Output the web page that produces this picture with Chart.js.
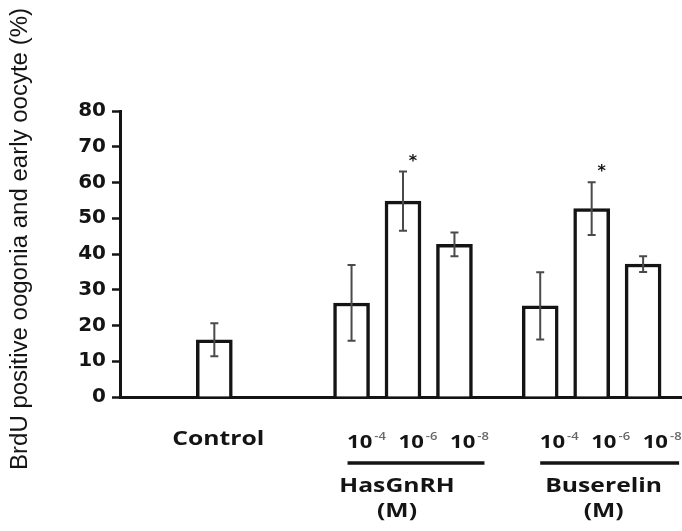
<!DOCTYPE html>
<html>
<head>
<meta charset="utf-8">
<script src="https://cdn.jsdelivr.net/npm/chart.js@4.4.1/dist/chart.umd.min.js"></script>
<style>
  html, body { margin: 0; padding: 0; background: #fff; overflow: hidden; }
  #wrap { position: relative; width: 686px; height: 531px; }
</style>
</head>
<body>
<div id="wrap"><canvas id="myChart"></canvas></div>
<script>
// Datos
const barNames = ['Control', 'HasGnRH 10-4', 'HasGnRH 10-6', 'HasGnRH 10-8', 'Buserelin 10-4', 'Buserelin 10-6', 'Buserelin 10-8'];
const exponents = [null, '-4', '-6', '-8', '-4', '-6', '-8'];
const meanValues = [16.0, 26.3, 54.8, 42.7, 25.5, 52.7, 37.2];
const semValues = [4.6, 10.6, 8.3, 3.3, 9.4, 7.4, 2.2];
const significant = [false, false, true, false, false, true, false];
const groupNames = ['HasGnRH', 'Buserelin'];
const groupMembers = [[1, 2, 3], [4, 5, 6]];
const unitLabel = '(M)';
const yTitle = 'BrdU positive oogonia and early oocyte (%)';
const yMin = 0, yMax = 80, yStep = 10;

// Posiciones en el eje de categorías (diseño, no datos)
const SLOTS = [5, 13, 16, 19, 24, 27, 30];
const N_SLOTS = 33;
const STRETCH = 1.3;
const INK = '#141414';

const slotLabels = [];
const slotData = [];
for (let i = 0; i < N_SLOTS; i++) { slotLabels.push(''); slotData.push(null); }
SLOTS.forEach((s, i) => { slotLabels[s] = barNames[i]; slotData[s] = meanValues[i]; });

function stretchText(c, text, x, y, sx) {
    c.save();
    c.translate(x, y);
    c.scale(sx, 1);
    c.fillText(text, 0, 0);
    c.restore();
}

// Barras de error, asteriscos y etiquetas inferiores
const extrasPlugin = {
    id: 'extras',
    afterDatasetsDraw(chart) {
        const c = chart.ctx;
        const ys = chart.scales.y;
        const meta = chart.getDatasetMeta(0);
        const xs = SLOTS.map(s => meta.data[s].x);

        c.save();
        c.strokeStyle = '#4a4a4a';
        c.lineWidth = 2;
        SLOTS.forEach((s, i) => {
            const x = xs[i];
            const top = ys.getPixelForValue(meanValues[i] + semValues[i]);
            const bot = ys.getPixelForValue(meanValues[i] - semValues[i]);
            c.beginPath();
            c.moveTo(x, top); c.lineTo(x, bot);
            c.moveTo(x - 4, top); c.lineTo(x + 4, top);
            c.moveTo(x - 4, bot); c.lineTo(x + 4, bot);
            c.stroke();
            if (significant[i]) {
                c.fillStyle = INK;
                c.font = 'bold 16px "DejaVu Sans"';
                c.textAlign = 'center';
                c.textBaseline = 'middle';
                c.fillText('*', x + 10, top - 10);
            }
        });
        c.restore();
    },
    afterDraw(chart) {
        const c = chart.ctx;
        const meta = chart.getDatasetMeta(0);
        const xs = SLOTS.map(s => meta.data[s].x);
        c.save();
        c.fillStyle = INK;
        c.textBaseline = 'middle';

        // Título del eje Y
        c.save();
        c.font = '23px "Liberation Sans"';
        c.textAlign = 'center';
        const w = c.measureText(yTitle).width;
        c.translate(21, 239);
        c.rotate(-Math.PI / 2);
        c.scale(462 / w, 1);
        c.fillText(yTitle, 0, 0);
        c.restore();

        // Control
        c.textAlign = 'center';
        c.font = 'bold 19px "Open Sans"';
        stretchText(c, barNames[0], xs[0] + 4, 440, STRETCH);

        // Concentraciones 10^x
        const labDx = [15, 19];
        groupMembers.forEach((members, g) => {
            members.forEach(i => {
                const cx = xs[i] + labDx[g];
                c.font = 'bold 17px "Open Sans"';
                const w1 = c.measureText('10').width * STRETCH;
                c.font = '600 10px "Open Sans"';
                const w2 = c.measureText(exponents[i]).width * STRETCH;
                const x0 = cx - (w1 + w2 + 2) / 2;
                c.textAlign = 'left';
                c.fillStyle = INK;
                c.font = 'bold 17px "Open Sans"';
                stretchText(c, '10', x0, 443, STRETCH);
                c.fillStyle = '#666';
                c.font = '600 10px "Open Sans"';
                stretchText(c, exponents[i], x0 + w1 + 2, 437, STRETCH);
            });
        });

        // Líneas y nombres de grupo
        const lineDx = [[-4, 30], [0, 36]];
        c.fillStyle = INK;
        c.strokeStyle = INK;
        c.lineWidth = 3.5;
        groupMembers.forEach((members, g) => {
            const x1 = xs[members[0]] + lineDx[g][0];
            const x2 = xs[members[members.length - 1]] + lineDx[g][1];
            c.beginPath();
            c.moveTo(x1, 463); c.lineTo(x2, 463);
            c.stroke();
            const mid = xs[members[1]] + (g === 0 ? -6 : 12);
            c.textAlign = 'center';
            c.font = 'bold 19px "Open Sans"';
            stretchText(c, groupNames[g], mid, 487, STRETCH);
            stretchText(c, unitLabel, mid, 512, STRETCH);
        });
        c.restore();
    }
};

const ctx = document.getElementById('myChart').getContext('2d');
const myChart = new Chart(ctx, {
    type: 'bar',
    data: {
        labels: slotLabels,
        datasets: [{
            data: slotData,
            backgroundColor: '#ffffff',
            borderColor: INK,
            borderWidth: 3.5,
            borderSkipped: 'start',
            barThickness: 36
        }]
    },
    options: {
        responsive: true,
        maintainAspectRatio: false,
        animation: false,
        layout: { padding: { top: 111, bottom: 134, left: 0, right: 0 } },
        plugins: { legend: { display: false }, tooltip: { enabled: false } },
        scales: {
            x: {
                grid: { display: false },
                border: { display: true, color: INK, width: 3 },
                ticks: { display: false },
                afterFit: s => { s.height = 0; }
            },
            y: {
                min: yMin, max: yMax,
                ticks: {
                    stepSize: yStep,
                    color: INK,
                    padding: 6,
                    font: { family: '"DejaVu Sans"', size: 20, weight: 'bold' }
                },
                grid: { drawOnChartArea: false, drawTicks: true, tickLength: 8, tickWidth: 2.5, tickColor: INK },
                border: { display: true, color: INK, width: 3 },
                afterFit: s => { s.width = 120; }
            }
        }
    },
    plugins: [extrasPlugin]
});
</script>
</body>
</html>
